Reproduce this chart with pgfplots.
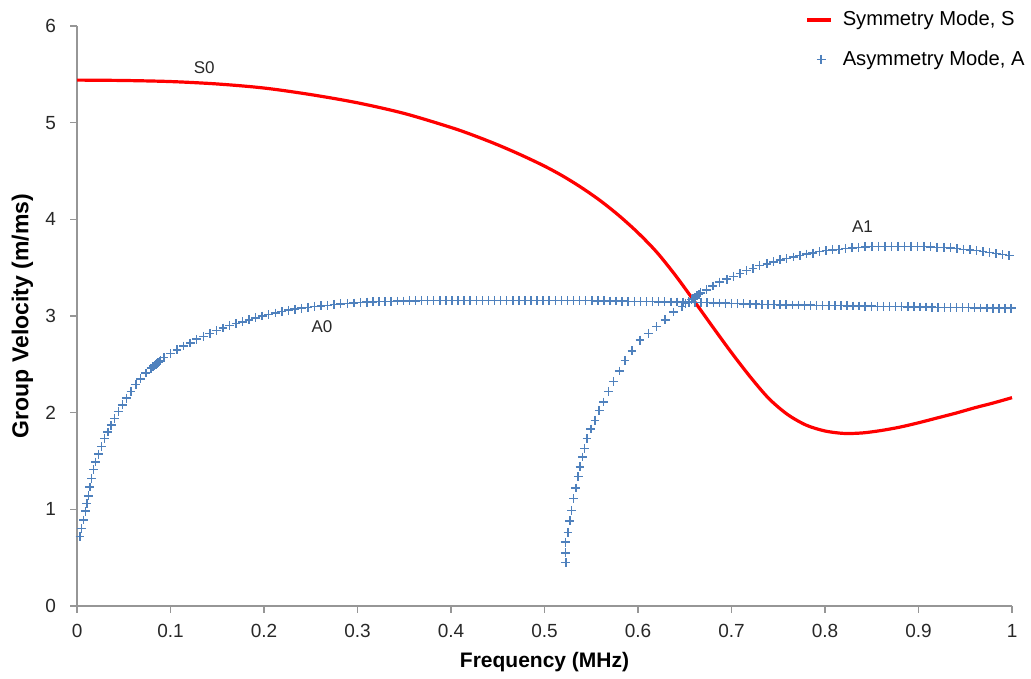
\documentclass[border=0pt]{standalone}
\usepackage{fontspec}
\setmainfont{Liberation Sans}
\usepackage{pgfplots}
\pgfplotsset{compat=1.18}
\usepackage{pgfplotstable}

\definecolor{sred}{RGB}{255,0,0}
\definecolor{ablue}{RGB}{79,129,189}
\definecolor{axgray}{RGB}{150,150,150}
\definecolor{txt}{RGB}{40,40,40}

% symmetric mode S0
\pgfplotstableread{
x y
0.00 5.44
0.05 5.436
0.10 5.425
0.15 5.40
0.20 5.358
0.25 5.29
0.30 5.205
0.35 5.095
0.40 4.95
0.425 4.865
0.45 4.77
0.475 4.665
0.50 4.55
0.52 4.445
0.54 4.325
0.56 4.19
0.58 4.035
0.60 3.86
0.62 3.66
0.64 3.42
0.66 3.155
0.68 2.885
0.70 2.62
0.72 2.37
0.74 2.145
0.76 1.98
0.78 1.87
0.80 1.81
0.82 1.785
0.84 1.79
0.86 1.815
0.88 1.85
0.90 1.895
0.92 1.945
0.94 1.995
0.96 2.05
0.98 2.10
1.00 2.155
}\smode

% antisymmetric modes A0 and A1 (markers only)
\pgfplotstableread{
x y
0.0032 0.72
0.0050 0.80
0.0070 0.89
0.0090 0.98
0.0105 1.06
0.0120 1.14
0.0137 1.23
0.0155 1.32
0.0175 1.41
0.0200 1.49
0.0230 1.57
0.0262 1.65
0.0295 1.73
0.0330 1.80
0.0365 1.87
0.0402 1.94
0.0442 2.01
0.0485 2.08
0.0530 2.15
0.0578 2.22
0.0628 2.29
0.0680 2.35
0.0735 2.41
0.0790 2.46
0.0815 2.48
0.0830 2.49
0.0843 2.50
0.0855 2.51
0.0868 2.52
0.0880 2.53
0.0895 2.54
0.0930 2.57
0.100 2.61
0.107 2.65
0.114 2.69
0.121 2.72
0.128 2.76
0.135 2.79
0.142 2.82
0.149 2.85
0.156 2.875
0.163 2.90
0.170 2.92
0.177 2.94
0.184 2.96
0.191 2.98
0.198 3.00
0.205 3.015
0.212 3.03
0.219 3.045
0.226 3.06
0.233 3.07
0.240 3.08
0.247 3.09
0.254 3.10
0.261 3.105
0.268 3.11
0.275 3.12
0.282 3.125
0.289 3.13
0.296 3.135
0.303 3.14
0.310 3.143
0.3165 3.146
0.323 3.148
0.3295 3.150
0.336 3.152
0.3425 3.154
0.349 3.155
0.3555 3.156
0.362 3.157
0.3685 3.158
0.375 3.158
0.3815 3.158
0.388 3.158
0.3945 3.158
0.401 3.158
0.4075 3.158
0.414 3.158
0.4205 3.158
0.427 3.158
0.4335 3.158
0.440 3.158
0.4465 3.158
0.453 3.158
0.4595 3.158
0.466 3.158
0.4725 3.158
0.479 3.158
0.4855 3.158
0.492 3.158
0.4985 3.158
0.505 3.158
0.5115 3.158
0.518 3.158
0.5245 3.158
0.531 3.158
0.5375 3.158
0.544 3.158
0.5505 3.158
0.557 3.157
0.5635 3.156
0.570 3.155
0.5765 3.154
0.583 3.153
0.5895 3.152
0.596 3.151
0.6025 3.150
0.609 3.149
0.6155 3.148
0.622 3.147
0.6285 3.146
0.635 3.145
0.6415 3.144
0.648 3.143
0.6545 3.142
0.661 3.141
0.6675 3.140
0.674 3.138
0.6805 3.136
0.687 3.134
0.6935 3.132
0.700 3.130
0.7065 3.128
0.713 3.126
0.7195 3.124
0.726 3.122
0.7325 3.120
0.739 3.118
0.7455 3.117
0.752 3.116
0.7585 3.115
0.765 3.114
0.7715 3.113
0.778 3.112
0.7845 3.111
0.791 3.110
0.7975 3.109
0.804 3.108
0.8105 3.107
0.817 3.106
0.8235 3.105
0.830 3.104
0.8365 3.103
0.843 3.102
0.8495 3.101
0.856 3.100
0.8625 3.099
0.869 3.098
0.8755 3.097
0.882 3.096
0.8885 3.095
0.895 3.094
0.9015 3.093
0.908 3.092
0.9145 3.091
0.921 3.090
0.9275 3.089
0.934 3.088
0.9405 3.087
0.947 3.086
0.9535 3.085
0.960 3.084
0.9665 3.083
0.973 3.082
0.9795 3.081
0.986 3.080
0.9925 3.080
0.999 3.080
0.5228 0.45
0.5225 0.55
0.5222 0.66
0.5250 0.76
0.5270 0.88
0.5290 0.99
0.5310 1.11
0.5335 1.22
0.5360 1.34
0.5380 1.44
0.5405 1.54
0.5430 1.63
0.5455 1.73
0.5495 1.83
0.5540 1.92
0.5585 2.02
0.5630 2.11
0.5685 2.22
0.5740 2.32
0.5800 2.43
0.5860 2.54
0.5935 2.64
0.6020 2.75
0.6110 2.82
0.6200 2.89
0.6290 2.96
0.6380 3.04
0.6470 3.10
0.651 3.13
0.654 3.15
0.657 3.17
0.659 3.18
0.661 3.19
0.663 3.21
0.665 3.22
0.667 3.24
0.673 3.27
0.680 3.31
0.687 3.35
0.695 3.38
0.702 3.41
0.709 3.44
0.716 3.47
0.723 3.49
0.730 3.52
0.738 3.54
0.745 3.56
0.752 3.58
0.759 3.595
0.766 3.61
0.773 3.625
0.780 3.64
0.787 3.65
0.794 3.665
0.801 3.675
0.808 3.685
0.815 3.69
0.822 3.70
0.829 3.705
0.836 3.71
0.843 3.715
0.850 3.72
0.857 3.72
0.864 3.72
0.871 3.72
0.878 3.72
0.885 3.72
0.892 3.72
0.899 3.72
0.906 3.72
0.913 3.715
0.920 3.71
0.927 3.71
0.934 3.705
0.941 3.70
0.948 3.69
0.955 3.685
0.962 3.675
0.969 3.665
0.976 3.655
0.983 3.645
0.990 3.635
0.997 3.625
}\amode

\begin{document}
\begin{tikzpicture}
\begin{axis}[
    scale only axis,
    width=467.5pt, height=290pt,
    xmin=0, xmax=1, ymin=0, ymax=6,
    axis lines*=left,
    axis line style={axgray, line width=0.7pt},
    tick style={axgray, line width=0.7pt},
    tick align=outside,
    major tick length=3.5pt,
    xtick={0,0.1,0.2,0.3,0.4,0.5,0.6,0.7,0.8,0.9,1},
    ytick={0,1,2,3,4,5,6},
    xticklabels={0,0.1,0.2,0.3,0.4,0.5,0.6,0.7,0.8,0.9,1},
    /pgf/number format/assume math mode=true,
    tick label style={font=\fontsize{9.5}{11}\selectfont, text=txt},
    yticklabel style={xshift=-3.5pt},
    xticklabel style={yshift=-2pt},
    xlabel={\textbf{Frequency (MHz)}},
    ylabel={\textbf{Group Velocity (m/ms)}},
    xlabel style={font=\fontsize{10.5}{12}\selectfont, at={(axis description cs:0.5,-0.097)}, anchor=center},
    ylabel style={font=\fontsize{11.5}{13}\selectfont, at={(axis description cs:-0.0585,0.5)}, anchor=center},
    legend style={draw=none, fill=none, at={(axis description cs:1.016,1.033)}, anchor=north east,
        font=\fontsize{10.1}{12}\selectfont, row sep=6.8pt, inner sep=0pt,
        nodes={inner xsep=1pt}},
    legend cell align=left,
    clip=false,
]
% page frame as in the reference
\path (axis description cs:-0.0824,-0.1207) rectangle (axis description cs:1.0203,1.0448);
\addplot[sred, line width=1.6pt, smooth, tension=0.5,
    legend image code/.code={\draw[sred, line width=1.6pt] (0pt,0pt) -- (12pt,0pt); \path (16pt,0pt);}]
    table[x=x, y=y] {\smode};
\addlegendentry{Symmetry Mode, S}
\addplot[only marks, mark=+, mark size=2.2pt, color=ablue, mark options={line width=0.75pt},
    legend image code/.code={\path (0pt,0pt) (16pt,0pt); \draw[ablue, line width=0.6pt] plot[mark=+, mark size=2.2pt] coordinates {(7pt,0pt)};}]
    table[x=x, y=y] {\amode};
\addlegendentry{Asymmetry Mode, A}
\node[font=\fontsize{8.5}{10}\selectfont, text=txt] at (axis cs:0.136,5.57) {S0};
\node[font=\fontsize{8.5}{10}\selectfont, text=txt] at (axis cs:0.262,2.89) {A0};
\node[font=\fontsize{8.5}{10}\selectfont, text=txt] at (axis cs:0.840,3.92) {A1};
\end{axis}
\end{tikzpicture}
\end{document}
